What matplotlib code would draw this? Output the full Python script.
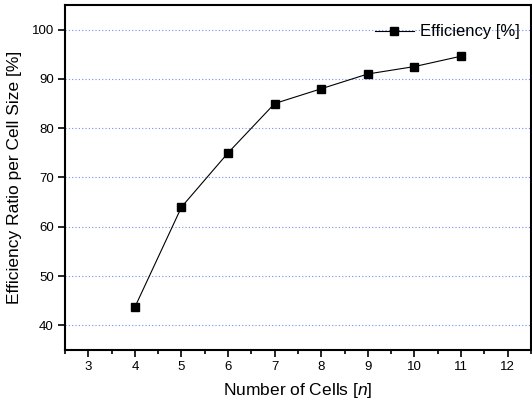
import matplotlib
matplotlib.use("Agg")
import matplotlib.pyplot as plt
from matplotlib.ticker import MultipleLocator

plt.rcParams['font.family'] = ['Liberation Sans', 'DejaVu Sans']
plt.rcParams['mathtext.fontset'] = 'custom'
plt.rcParams['mathtext.it'] = 'Liberation Sans:italic'
plt.rcParams['mathtext.rm'] = 'Liberation Sans'

cells = [4, 5, 6, 7, 8, 9, 10, 11]
efficiency = [43.7, 64.0, 75.0, 85.0, 88.0, 91.0, 92.5, 94.6]
x_ticks = [3, 4, 5, 6, 7, 8, 9, 10, 11, 12]
y_ticks = [40, 50, 60, 70, 80, 90, 100]

fig = plt.figure(figsize=(5.32, 4.05), dpi=100)
ax = fig.add_axes([0.1222, 0.1358, 0.8758, 0.852])

for y in y_ticks:
    ax.axhline(y, color='#6f8ff5', linestyle=(0, (1, 2)), linewidth=0.8, zorder=0)

ax.plot(cells, efficiency, color='black', linewidth=0.8, marker='s', markersize=6,
        label='Efficiency [%]')

ax.set_xlim(2.5, 12.5)
ax.set_ylim(35, 105)
ax.set_xticks(x_ticks)
ax.set_yticks(y_ticks)
ax.xaxis.set_minor_locator(MultipleLocator(0.5))
ax.tick_params(axis='both', which='major', direction='out', length=5, width=1.2,
               labelsize=9.5, pad=3)
ax.tick_params(axis='x', which='minor', direction='out', length=3, width=1.2)
ax.tick_params(top=False, right=False)
for s in ax.spines.values():
    s.set_linewidth(1.5)

ax.set_xlabel('Number of Cells [$\\mathit{n}$]', fontsize=12.5, labelpad=6)
ax.set_ylabel('Efficiency Ratio per Cell Size [%]', fontsize=12.5, labelpad=7)

leg = ax.legend(loc='center right', frameon=False, fontsize=12, handlelength=2.3,
                handletextpad=0.4, borderaxespad=0, borderpad=0,
                bbox_to_anchor=(1 - 11 / 466, 1 - 27 / 345))

fig.savefig('out.png', dpi=100)
